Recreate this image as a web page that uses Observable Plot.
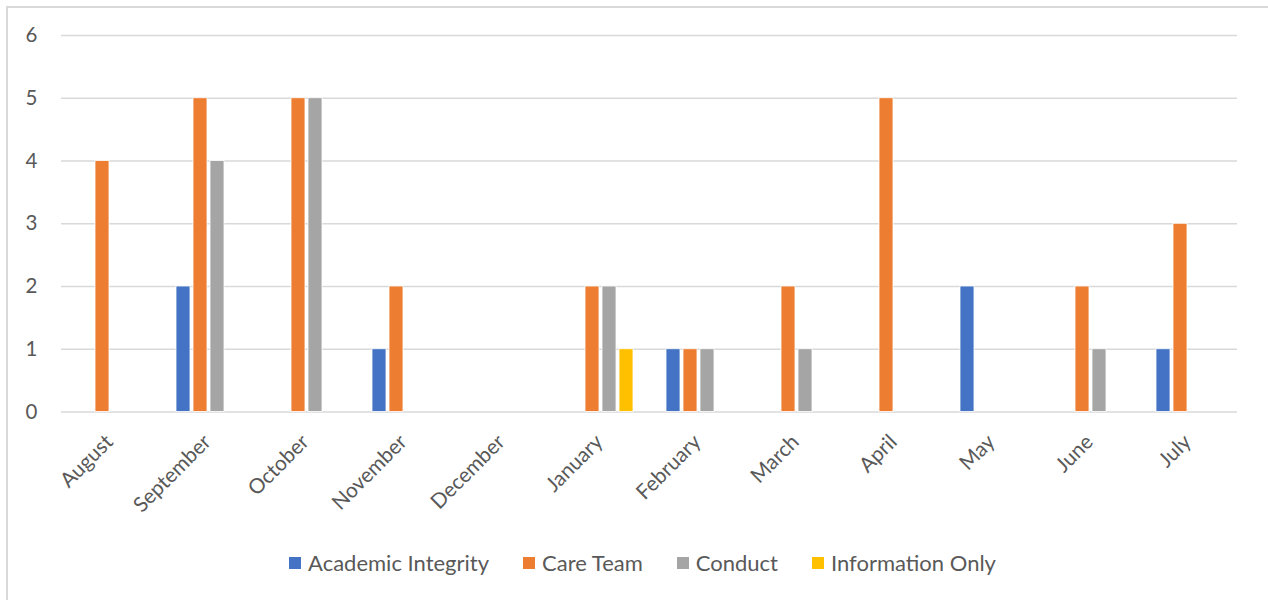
<!DOCTYPE html>
<html>
<head>
<meta charset="utf-8">
<script src="https://cdn.jsdelivr.net/npm/d3@7"></script>
<script src="https://cdn.jsdelivr.net/npm/@observablehq/plot@0.6"></script>
<style>
  html, body { margin: 0; padding: 0; background: #fff; }
  body { width: 1268px; height: 600px; position: relative; overflow: hidden; font-family: Lato, "Open Sans", sans-serif; }
  #frame { position: absolute; left: 6px; top: 6px; width: 1300px; height: 640px; border: 2px solid #d9d9d9; box-sizing: border-box; }
  #chart { position: absolute; left: 0; top: 0; }
  #legend { position: absolute; left: 0; top: 549px; width: 1285px; display: flex; justify-content: center; align-items: center; gap: 34px; color: #595959; font-size: 22px; }
  .item { display: flex; align-items: center; gap: 7px; }
  .sw { width: 12px; height: 12px; display: inline-block; }
</style>
</head>
<body>
<div id="frame"></div>
<div id="chart"></div>
<div id="legend"></div>
<script>
const months = ["August","September","October","November","December","January","February","March","April","May","June","July"];
const series = ["Academic Integrity","Care Team","Conduct","Information Only"];
const colors = ["#4472C4","#ED7D31","#A5A5A5","#FFC000"];
const academicIntegrity = [0,2,0,1,0,0,1,0,0,2,0,1];
const careTeam          = [4,5,5,2,0,2,1,2,5,0,2,3];
const conduct           = [0,4,5,0,0,2,1,1,0,0,1,0];
const informationOnly   = [0,0,0,0,0,1,0,0,0,0,0,0];
const yTicks = [0,1,2,3,4,5,6];

const seriesValues = [academicIntegrity, careTeam, conduct, informationOnly];
const allData = [];
months.forEach((m, i) => {
  series.forEach((s, j) => {
    allData.push({month: m, series: s, value: seriesValues[j][i]});
  });
});
const data = allData.filter(d => d.value > 0);

const chart = Plot.plot({
  width: 1268,
  height: 530,
  marginLeft: 58,
  marginRight: 28,
  marginTop: 35,
  marginBottom: 118.5,
  style: {fontFamily: "Lato, 'Open Sans', sans-serif", color: "#595959", background: "transparent"},
  fx: {domain: months, padding: 0, label: null, axis: null},
  x: {domain: series, paddingInner: 0.2, paddingOuter: 0.85, axis: null},
  y: {domain: [0, 6], label: null, axis: null},
  color: {domain: series, range: colors},
  marks: [
    Plot.barY(allData, {fx: "month", x: "series", y: "value", fill: "none"}),
    Plot.gridY(yTicks, {stroke: "#d9d9d9", strokeOpacity: 1, strokeWidth: 1.5}),
    Plot.axisY(yTicks, {tickSize: 0, tickPadding: 24, fontSize: 20.5, fill: "#595959", label: null, tickFormat: "d"}),
    Plot.barY(data, {fx: "month", x: "series", y: "value", fill: "series", stroke: "white", strokeWidth: 0.8}),
    Plot.axisFx({anchor: "bottom", tickRotate: -45, tickSize: 0, tickPadding: 26.5, dx: -1, fontSize: 20.8, fill: "#595959", label: null})
  ]
});
document.getElementById("chart").appendChild(chart);

const legend = document.getElementById("legend");
series.forEach((s, i) => {
  const item = document.createElement("div");
  item.className = "item";
  const sw = document.createElement("span");
  sw.className = "sw";
  sw.style.background = colors[i];
  const t = document.createElement("span");
  t.textContent = s;
  item.appendChild(sw);
  item.appendChild(t);
  legend.appendChild(item);
});
</script>
</body>
</html>
